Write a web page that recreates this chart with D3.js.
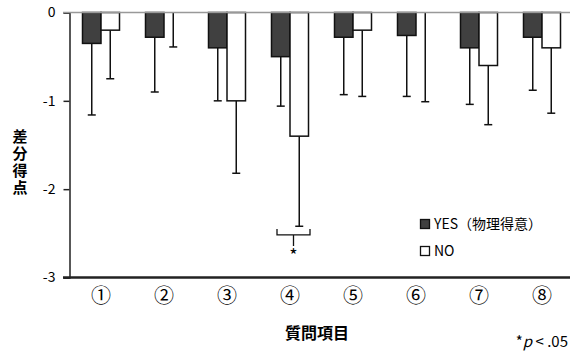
<!DOCTYPE html>
<html>
<head>
<meta charset="utf-8">
<script src="https://cdn.jsdelivr.net/npm/d3@7"></script>
<style type="text/css">
body{ margin: 0; background: #fff; }
text{ font-family: "Noto Sans CJK JP", "DejaVu Sans", sans-serif; fill: #000; }
.bar-yes{ fill: #404040; stroke: #111; stroke-width: 1.5; }
.bar-no{ fill: #fff; stroke: #111; stroke-width: 1.5; }
.err{ stroke: #111; stroke-width: 1.5; }
</style>
</head>
<body>
<script type="text/javascript">
var width = 570,
    height = 351;

// data
var items = ['①', '②', '③', '④', '⑤', '⑥', '⑦', '⑧'];
var yesMean = [-0.35, -0.28, -0.40, -0.50, -0.28, -0.26, -0.40, -0.28];
var yesLow  = [-1.16, -0.90, -1.00, -1.06, -0.93, -0.95, -1.04, -0.88];
var noMean  = [-0.20, 0, -1.00, -1.40, -0.20, 0, -0.60, -0.40];
var noLow   = [-0.75, -0.39, -1.82, -2.42, -0.95, -1.01, -1.27, -1.14];
var yTicks = [0, -1, -2, -3];

var x = d3.scaleBand()
    .domain(items)
    .range([69.5, 573.5]);

var y = d3.scaleLinear()
    .domain([-3, 0])
    .range([277.5, 12.5]);

var barW = 18.5;

var svg = d3.select('body')
    .append('svg')
        .attr('width', width)
        .attr('height', height);

// y axis
var yAxis = svg.append('g')
    .attr('transform', 'translate(69.5,0)')
    .call(d3.axisLeft(y).tickValues(yTicks).tickSize(6).tickPadding(8)
        .tickFormat(function(d){ return d === 0 ? '0' : d3.format('d')(d).replace('−', '-'); }));
yAxis.select('.domain').attr('stroke', '#222').attr('stroke-width', 1.5);
yAxis.selectAll('.tick line').attr('stroke', '#222').attr('stroke-width', 1.5);
yAxis.selectAll('.tick text').style('font-size', '14px');

var rows = items.map(function(d, i){
    return { item: d, yes: yesMean[i], yesLow: yesLow[i], no: noMean[i], noLow: noLow[i] };
});

// error bars (drawn first, bars cover the part inside)
function errBars(cls, off, mean, low){
    var g = svg.append('g').attr('class', cls);
    g.selectAll('line.v')
        .data(rows)
        .enter()
        .append('line')
            .attr('class', 'err v')
            .attr('x1', function(d){ return x(d.item) + x.bandwidth()/2 + off; })
            .attr('x2', function(d){ return x(d.item) + x.bandwidth()/2 + off; })
            .attr('y1', function(d){ return y(d[mean]); })
            .attr('y2', function(d){ return y(d[low]); });
    g.selectAll('line.c')
        .data(rows)
        .enter()
        .append('line')
            .attr('class', 'err c')
            .attr('x1', function(d){ return x(d.item) + x.bandwidth()/2 + off - 4; })
            .attr('x2', function(d){ return x(d.item) + x.bandwidth()/2 + off + 4; })
            .attr('y1', function(d){ return y(d[low]); })
            .attr('y2', function(d){ return y(d[low]); });
}
errBars('err-yes', -barW/2, 'yes', 'yesLow');
errBars('err-no', barW/2, 'no', 'noLow');

svg.selectAll('rect.bar-yes')
    .data(rows.filter(function(d){ return d.yes < 0; }))
    .enter()
    .append('rect')
        .attr('class', 'bar-yes')
        .attr('x', function(d){ return x(d.item) + x.bandwidth()/2 - barW; })
        .attr('y', y(0))
        .attr('width', barW)
        .attr('height', function(d){ return y(d.yes) - y(0); });

svg.selectAll('rect.bar-no')
    .data(rows.filter(function(d){ return d.no < 0; }))
    .enter()
    .append('rect')
        .attr('class', 'bar-no')
        .attr('x', function(d){ return x(d.item) + x.bandwidth()/2; })
        .attr('y', y(0))
        .attr('width', barW)
        .attr('height', function(d){ return y(d.no) - y(0); });

// zero line
svg.append('line')
    .attr('x1', 63).attr('x2', width)
    .attr('y1', y(0)).attr('y2', y(0))
    .attr('stroke', '#999').attr('stroke-width', 1.5);

// bottom axis
var xAxis = svg.append('g')
    .attr('transform', 'translate(0,' + y(-3) + ')')
    .call(d3.axisBottom(x).tickSize(0).tickPadding(11));
xAxis.select('.domain').attr('d', 'M63,0H' + width).attr('stroke', '#222').attr('stroke-width', 2.5);
xAxis.selectAll('.tick text').style('font-size', '20px');

// significance bracket under item 4
var c4 = x('④') + x.bandwidth()/2;
var bTop = y(-2.45);
svg.append('path')
    .attr('d', 'M' + (c4 - 13) + ',' + bTop + 'V' + (bTop + 6) + 'H' + (c4 + 20) + 'V' + bTop
        + 'M' + (c4 + 3.5) + ',' + (bTop + 6) + 'V' + (bTop + 17))
    .attr('fill', 'none').attr('stroke', '#111').attr('stroke-width', 1.3);
svg.append('text')
    .attr('x', c4 + 3.5).attr('y', bTop + 33)
    .attr('text-anchor', 'middle')
    .style('font-size', '18px')
    .text('*');

// legend
var legend = [
    { label: 'YES（物理得意）', cls: 'bar-yes', y: 224 },
    { label: 'NO', cls: 'bar-no', y: 251 }
];
var lg = svg.selectAll('g.legend')
    .data(legend)
    .enter()
    .append('g')
        .attr('class', 'legend');
lg.append('rect')
    .attr('class', function(d){ return d.cls; })
    .attr('x', 420.5).attr('y', function(d){ return d.y - 4.5; })
    .attr('width', 9).attr('height', 9)
    .style('stroke-width', 1.3);
lg.append('text')
    .attr('x', 434).attr('y', function(d){ return d.y + 5; })
    .style('font-size', '14px')
    .text(function(d){ return d.label; });

// axis titles
svg.append('text')
    .attr('x', 20)
    .attr('y', 129)
    .style('writing-mode', 'vertical-rl')
    .style('letter-spacing', '2px')
    .style('font-size', '15px')
    .style('font-weight', 'bold')
    .text('差分得点');

svg.append('text')
    .attr('x', 317).attr('y', 339)
    .attr('text-anchor', 'middle')
    .style('font-size', '16px')
    .style('font-weight', 'bold')
    .text('質問項目');

var note = svg.append('text')
    .attr('x', 568).attr('y', 347)
    .attr('text-anchor', 'end')
    .style('font-size', '15px');
note.append('tspan').text('*');
note.append('tspan').style('font-style', 'italic').text('p');
note.append('tspan').text(' < .05');
</script>
</body>
</html>
